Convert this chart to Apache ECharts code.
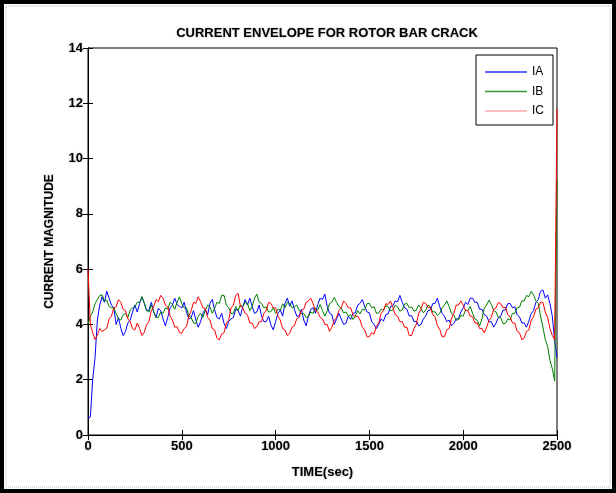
<!DOCTYPE html>
<html><head><meta charset="utf-8">
<script src="https://cdn.jsdelivr.net/npm/echarts@6/dist/echarts.min.js"></script>
<style>html,body{margin:0;padding:0;background:#fff}#c{width:616px;height:493px}</style>
</head><body><div id="c"></div>
<script>
const titleText = 'CURRENT ENVELOPE FOR ROTOR BAR CRACK';
const xName = 'TIME(sec)';
const yName = 'CURRENT MAGNITUDE';
const seriesNames = ['IA', 'IB', 'IC'];
const sampleStep = 12.5; // seconds between samples, t = 0 ... 2500

const valIA = [
  0.6,0.65,2.0,2.8,4.16,4.7,5.0,4.8,5.2,4.95,4.7,4.6,4.0,4.25,3.86,3.6,3.75,4.05,4.16,4.45,
  4.7,4.45,4.76,5.0,4.76,4.5,4.52,4.8,4.46,4.25,4.58,4.5,4.2,3.95,4.25,4.6,4.7,4.95,4.72,4.65,
  4.6,4.8,4.45,4.2,4.25,4.5,4.16,3.9,4.1,4.4,4.55,4.35,4.76,4.9,4.52,4.25,4.2,4.4,4.04,3.85,
  4.1,4.2,4.25,4.55,4.5,4.3,4.64,4.9,4.7,4.95,4.65,4.4,4.45,4.7,4.3,4.1,4.1,4.3,3.98,3.8,
  4.1,4.4,4.52,4.3,4.76,4.95,4.66,4.85,4.55,4.3,4.3,4.55,4.16,3.95,4.3,4.55,4.6,4.4,4.72,4.95,
  4.9,5.1,4.65,4.4,4.35,4.0,4.2,4.4,4.2,4.0,4.04,4.3,4.18,4.4,4.42,4.7,4.76,4.9,4.64,4.45,
  4.42,4.1,4.0,3.85,4.0,4.2,4.12,4.35,4.38,4.65,4.68,4.85,4.82,5.05,4.8,4.6,4.55,4.3,4.32,4.1,
  4.12,3.95,4.0,4.2,4.3,4.5,4.52,4.75,4.76,4.95,4.64,4.4,4.3,4.1,4.16,3.95,4.04,4.2,4.2,4.45,
  4.6,4.8,4.72,4.95,4.95,4.8,4.8,4.55,4.55,4.35,4.3,4.1,4.1,3.9,4.05,4.25,4.3,4.52,4.52,4.75,
  4.76,4.6,4.64,4.35,4.28,4.05,4.06,3.9,4.12,4.4,4.5,4.8,4.9,5.2,5.25,4.95,5.07,4.75,4.3,3.4,
  2.8
];
const valIB = [
  4.0,4.3,4.45,4.75,4.9,5.05,5.07,4.85,4.88,4.65,4.6,4.6,4.4,4.2,4.16,4.35,4.4,4.25,4.52,4.6,
  4.64,4.8,4.8,5.0,4.78,4.5,4.45,4.7,4.46,4.25,4.25,4.45,4.4,4.6,4.55,4.8,4.72,4.55,4.8,5.0,
  4.75,4.6,4.6,4.3,4.25,4.05,4.04,4.3,4.4,4.25,4.52,4.7,4.64,4.4,4.58,4.8,4.76,5.05,5.05,4.7,
  4.6,4.4,4.4,4.65,4.5,4.7,4.64,4.8,4.76,4.5,4.64,4.95,5.1,4.8,4.76,4.6,4.64,4.45,4.46,4.6,
  4.4,4.55,4.52,4.75,4.6,4.8,4.76,4.6,4.64,4.7,4.52,4.38,4.4,4.25,4.28,4.45,4.4,4.6,4.52,4.72,
  4.5,4.3,4.5,4.75,4.8,4.98,4.8,4.65,4.6,4.42,4.45,4.3,4.35,4.18,4.3,4.5,4.38,4.55,4.52,4.75,
  4.76,4.6,4.64,4.4,4.42,4.55,4.52,4.68,4.64,4.5,4.52,4.7,4.64,4.48,4.52,4.74,4.76,4.6,4.64,4.48,
  4.52,4.7,4.58,4.42,4.52,4.7,4.64,4.45,4.46,4.32,4.4,4.6,4.7,4.85,4.65,4.4,4.35,4.15,4.18,4.32,
  4.3,4.52,4.5,4.65,4.4,4.2,4.15,3.95,4.2,4.6,4.7,4.88,4.72,4.5,4.45,4.25,4.25,4.02,4.04,4.2,
  4.16,4.4,4.4,4.6,4.62,4.85,4.85,5.05,5.0,5.2,5.07,4.85,4.76,4.3,3.9,3.45,3.2,2.7,2.4,1.95,
  9.2
];
const valIC = [
  6.0,4.0,3.7,3.45,3.62,3.85,3.74,3.8,3.86,4.2,4.3,4.6,4.64,4.9,4.8,4.55,4.5,4.2,4.1,3.85,
  3.8,4.05,3.85,3.6,3.72,4.0,4.1,4.5,4.64,4.9,4.82,5.05,4.95,4.7,4.64,4.3,4.16,3.9,3.92,3.7,
  3.68,3.85,3.92,4.3,4.5,4.8,4.76,5.0,4.82,4.6,4.58,4.25,4.16,3.85,3.8,3.5,3.44,3.65,3.7,4.05,
  4.15,4.6,4.7,5.05,5.13,4.65,4.6,4.4,4.35,4.05,4.05,3.85,3.92,4.1,4.1,4.4,4.5,4.8,4.76,4.6,
  4.6,4.3,4.16,3.85,3.8,3.6,3.68,3.9,3.95,4.2,4.25,4.5,4.55,4.8,4.85,4.95,4.75,4.5,4.45,4.25,
  4.2,4.0,4.0,3.75,3.9,4.15,4.25,4.5,4.6,4.85,4.76,4.6,4.6,4.35,4.28,4.3,4.16,3.9,3.8,3.55,
  3.56,3.7,3.65,3.95,4.05,4.4,4.5,4.75,4.72,4.85,4.62,4.35,4.3,4.1,4.1,3.9,3.9,3.6,3.6,3.85,
  4.0,4.4,4.55,4.8,4.76,4.6,4.62,4.35,4.28,3.95,3.82,3.55,3.56,3.8,3.85,4.2,4.4,4.7,4.7,4.85,
  4.7,4.5,4.5,4.3,4.28,4.05,4.05,3.85,3.86,3.7,3.9,4.15,4.25,4.55,4.6,4.8,4.75,4.6,4.62,4.35,
  4.28,4.05,4.05,3.75,3.7,3.45,3.5,3.75,3.8,4.15,4.28,4.55,4.6,4.8,4.8,4.45,4.25,3.85,3.6,3.44,
  11.8
];

const lineColors = ['#0000ff', '#008000', '#ff0000'];
const legendColors = ['#2233ff', '#3a9a3a', '#ffa8a8'];

const dataSets = [valIA, valIB, valIC].map(vals => vals.map((v, i) => [i * sampleStep, v]));

const shadow = { textShadowColor: 'rgba(120,120,120,0.55)', textShadowBlur: 2 };
const font = 'Liberation Sans, Arial, sans-serif';
const chart = echarts.init(document.getElementById('c'), null, { renderer: 'canvas' });
const axisCommon = {
  type: 'value', min: 0,
  splitLine: { show: false },
  axisLine: { show: true, lineStyle: { color: '#000', width: 1 } },
  axisTick: { show: true, inside: true, length: 5, lineStyle: { color: '#000' } }
};
chart.setOption({
  animation: false,
  backgroundColor: '#fff',
  title: {
    text: titleText, left: 322, top: 22, textAlign: 'center',
    textStyle: Object.assign({ fontSize: 13, fontWeight: 'bold', color: '#000', fontFamily: font }, shadow)
  },
  legend: {
    left: 476, top: 55, orient: 'vertical', align: 'left',
    backgroundColor: '#fff', borderColor: '#000', borderWidth: 1,
    padding: [11, 9, 8, 9], itemGap: 7.5, itemWidth: 42, itemHeight: 12,
    textStyle: { fontSize: 12, color: '#000', fontFamily: font },
    data: seriesNames.map((n, i) => ({ name: n, icon: 'path://M0,0 L25,0 L25,1 L0,1 Z', itemStyle: { color: legendColors[i] } }))
  },
  grid: { left: 88, right: 59, top: 48, bottom: 58, show: true, borderColor: '#000', borderWidth: 1 },
  xAxis: [
    Object.assign({}, axisCommon, {
      max: 2500, interval: 500, position: 'bottom',
      name: xName, nameLocation: 'middle', nameGap: 31,
      nameTextStyle: Object.assign({ fontSize: 13, fontWeight: 'bold', color: '#000', fontFamily: font }, shadow),
      axisLabel: Object.assign({ fontSize: 13, fontWeight: 'bold', color: '#000', margin: 5, fontFamily: font, formatter: v => String(v) }, shadow)
    }),
    Object.assign({}, axisCommon, { max: 2500, interval: 500, position: 'top', axisLabel: { show: false } })
  ],
  yAxis: [
    Object.assign({}, axisCommon, {
      max: 14, interval: 2, position: 'left',
      name: yName, nameLocation: 'middle', nameGap: 32,
      nameTextStyle: Object.assign({ fontSize: 12, fontWeight: 'bold', color: '#000', fontFamily: font }, shadow),
      axisLabel: Object.assign({ fontSize: 13, fontWeight: 'bold', color: '#000', margin: 5, fontFamily: font, formatter: v => String(v) }, shadow)
    }),
    Object.assign({}, axisCommon, { max: 14, interval: 2, position: 'right', axisLabel: { show: false } })
  ],
  series: seriesNames.map((n, i) => ({
    name: n, type: 'line', data: dataSets[i], showSymbol: false, symbol: 'none',
    lineStyle: { color: lineColors[i], width: 1 }, itemStyle: { color: lineColors[i] },
    z: 3 + i
  })),
  graphic: [
    { type: 'rect', shape: { x: 2, y: 2, width: 612, height: 489 }, style: { fill: 'none', stroke: '#000', lineWidth: 4 }, z: 100 },
    { type: 'rect', shape: { x: 6, y: 6, width: 604, height: 481 }, style: { fill: 'none', stroke: '#bbb', lineWidth: 1, lineDash: [1, 1] }, z: 100 }
  ]
});
</script></body></html>
